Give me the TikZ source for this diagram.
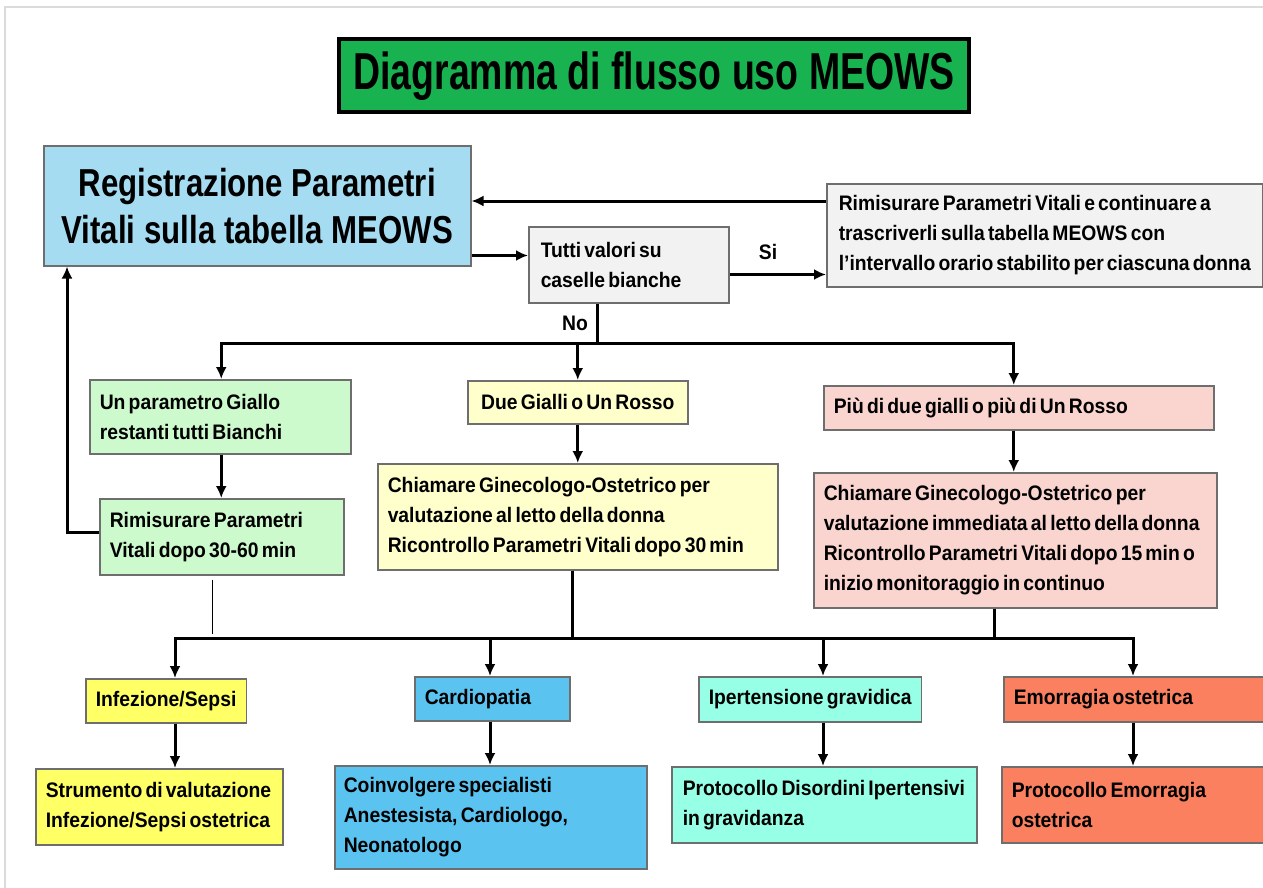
\documentclass[tikz,border=0pt]{standalone}
\usepackage{fontspec}
\setmainfont{Liberation Sans}[FakeStretch=0.92,WordSpace=0.6]
\newfontfamily\titlefont{Liberation Sans}[FakeStretch=0.72]
\newfontfamily\headfont{Liberation Sans}[FakeStretch=0.80]
\usetikzlibrary{arrows.meta,calc}

\definecolor{titlegreen}{RGB}{25,178,80}
\definecolor{headblue}{RGB}{165,220,242}
\definecolor{boxgray}{RGB}{242,242,242}
\definecolor{palegreen}{RGB}{204,250,204}
\definecolor{paleyellow}{RGB}{255,255,204}
\definecolor{palepink}{RGB}{250,212,206}
\definecolor{brightyellow}{RGB}{255,255,102}
\definecolor{skyblue}{RGB}{90,195,240}
\definecolor{aqua}{RGB}{150,255,230}
\definecolor{coral}{RGB}{250,128,95}
\definecolor{edge}{RGB}{110,110,110}

\tikzset{
  bodytext/.style={font=\fontsize{21}{30}\selectfont\bfseries},
  flowbox/.style={bodytext, draw=edge, line width=1.5pt, anchor=north west,
    inner xsep=10pt, inner ysep=0pt, align=flush left},
  centrebox/.style={flowbox, align=center},
  conn/.style={line width=3pt, draw=black},
  arr/.style={conn, -{Latex[length=12pt,width=11pt]}},
  lbl/.style={bodytext, inner sep=0pt}
}

\begin{document}
\begin{tikzpicture}[x=1pt,y=-1pt]
\useasboundingbox (0,0) rectangle (1263,888);
\fill[white] (0,0) rectangle (1263,888);
% slide frame
\draw[black!14, line width=1.5pt] (5,888) -- (5,7) -- (1263,7);

% title
\node[draw=black, line width=4pt, fill=titlegreen, minimum width=630pt,
      minimum height=73pt, inner sep=0pt,
      font=\titlefont\fontsize{52}{60}\selectfont\bfseries]
  (title) at (654,76) {Diagramma di flusso uso MEOWS};

% top row
\node[flowbox, fill=headblue, minimum width=427pt, minimum height=120pt,
      align=center, font=\headfont\fontsize{39}{47}\selectfont\bfseries]
  (reg) at (43,145) {Registrazione Parametri\\Vitali sulla tabella MEOWS};
\node[flowbox, fill=boxgray, text width=176pt, inner xsep=12pt, minimum height=76pt]
  (tutti) at (528,226) {Tutti valori su\\caselle bianche};
\node[flowbox, fill=boxgray, text width=412pt, inner xsep=12pt, minimum height=103pt]
  (rim) at (826,183) {Rimisurare Parametri Vitali e continuare a\\trascriverli sulla tabella MEOWS con\\l'intervallo orario stabilito per ciascuna donna};

% three branches
\node[flowbox, fill=palegreen, text width=241pt, minimum height=74pt]
  (g1) at (89,379) {Un parametro Giallo\\restanti tutti Bianchi};
\node[flowbox, fill=palegreen, text width=224pt, minimum height=76pt]
  (g2) at (99,498) {Rimisurare Parametri\\Vitali dopo 30-60 min};
\node[centrebox, fill=paleyellow, minimum width=220pt, minimum height=43pt]
  (y1) at (467,380) {Due Gialli o Un Rosso};
\node[flowbox, fill=paleyellow, text width=380pt, minimum height=106pt]
  (y2) at (377,463) {Chiamare Ginecologo-Ostetrico per\\valutazione al letto della donna\\Ricontrollo Parametri Vitali dopo 30 min};
\node[flowbox, fill=palepink, text width=370pt, minimum height=44pt]
  (p1) at (823,385) {Più di due gialli o più di Un Rosso};
\node[flowbox, fill=palepink, text width=383pt, minimum height=135pt]
  (p2) at (813,472) {Chiamare Ginecologo-Ostetrico per\\valutazione immediata al letto della donna\\Ricontrollo Parametri Vitali dopo 15 min o\\inizio monitoraggio in continuo};

% conditions
\node[centrebox, fill=brightyellow, minimum width=158pt, minimum height=44pt]
  (inf) at (85,678) {Infezione/Sepsi};
\node[flowbox, fill=brightyellow, text width=227pt, minimum height=76pt]
  (str) at (35,768) {Strumento di valutazione\\Infezione/Sepsi ostetrica};
\node[flowbox, fill=skyblue, text width=135pt, minimum height=44pt]
  (card) at (414,676) {Cardiopatia};
\node[flowbox, fill=skyblue, text width=294pt, minimum height=103pt, inner xsep=9pt]
  (coin) at (334,765) {Coinvolgere specialisti\\Anestesista, Cardiologo,\\Neonatologo};
\node[centrebox, fill=aqua, minimum width=221pt, minimum height=45pt]
  (ip) at (698,676) {Ipertensione gravidica};
\node[flowbox, fill=aqua, text width=283pt, minimum height=76pt, inner xsep=11pt]
  (prot) at (671,766) {Protocollo Disordini Ipertensivi\\in gravidanza};
\node[flowbox, fill=coral, text width=250pt, minimum height=45pt]
  (em) at (1003,676) {Emorragia ostetrica};
\node[flowbox, fill=coral, text width=252pt, minimum height=76pt]
  (pem) at (1001,766) {Protocollo Emorragia\\ostetrica};

% junction points of the connector trunks
\coordinate (nosplit) at (597,343);
\coordinate (lowsplit) at (572,638);
\coordinate (rightdrop) at (994,638);

% top row connectors
\coordinate (regout) at ($(reg.south east)+(0,-11)$);
\draw[arr] (regout) -- (regout -| tutti.west);
\coordinate (siout) at ($(tutti.south east)+(0,-29)$);
\draw[arr] (siout) -- (siout -| rim.west);
\node[lbl] (si) at (768,252) {Si};
\coordinate (rimout) at ($(rim.north west)+(0,18)$);
\draw[arr] (rimout) -- (rimout -| reg.east);

% No branch
\draw[conn] (nosplit |- tutti.south) -- (nosplit);
\node[lbl] (no) at (575,323) {No};
\coordinate (g1in) at ($(g1.north)+(1,0)$);
\coordinate (p1in) at ($(p1.north)+(-5,0)$);
\draw[arr] (nosplit) -| (g1in);
\draw[arr] (nosplit) -| (p1in);
\draw[arr] (nosplit -| y2.north) -- (y2.north |- y1.north);

% within branches
\coordinate (g1out) at ($(g1.south)+(1,0)$);
\draw[arr] (g1out) -- (g1out |- g2.north);
\coordinate (g2out) at ($(g2.north west)+(0,34)$);
\draw[arr] (g2out) -| ($(reg.south west)+(24,0)$);
\coordinate (tickstart) at ($(g2.south)+(-9,4)$);
\draw[line width=1pt] (tickstart) -- +(0,54);
\draw[arr] (y2.north |- y1.south) -- (y2.north);
\coordinate (p1out) at ($(p1.south)+(-5,0)$);
\draw[arr] (p1out) -- (p1out |- p2.north);

% lower trunk
\draw[conn] (lowsplit |- y2.south) -- (lowsplit);
\draw[conn] (rightdrop |- p2.south) -- (rightdrop);
\draw[conn] (lowsplit) -- (rightdrop);
\coordinate (infx) at (175,0);
\coordinate (cardx) at (490,0);
\coordinate (ipx) at (823,0);
\coordinate (emx) at (1133,0);
\draw[arr] (lowsplit) -| (infx |- inf.north);
\draw[arr] (lowsplit) -| (cardx |- card.north);
\draw[arr] (rightdrop) -| (ipx |- ip.north);
\draw[arr] (rightdrop) -| (emx |- em.north);

% conditions to protocols
\draw[arr] (infx |- inf.south) -- (infx |- str.north);
\draw[arr] (cardx |- card.south) -- (cardx |- coin.north);
\draw[arr] (ipx |- ip.south) -- (ipx |- prot.north);
\draw[arr] (emx |- em.south) -- (emx |- pem.north);
\end{tikzpicture}
\end{document}
